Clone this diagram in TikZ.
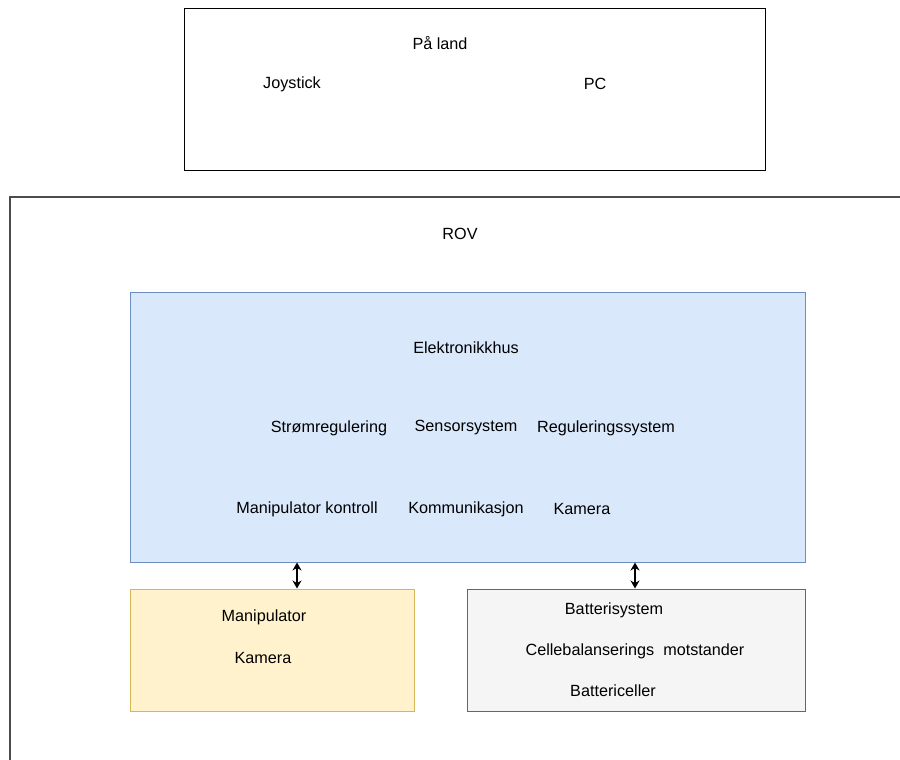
\documentclass[tikz,border=0pt]{standalone}
\usepackage{fontspec}
\setmainfont{Liberation Sans}
\usetikzlibrary{arrows.meta}
\begin{document}
\begin{tikzpicture}[x=1pt,y=-1pt,
  lbl/.style={inner sep=0pt,font=\fontsize{16.2}{19}\selectfont},
  box/.style={draw,line width=1pt,inner sep=0pt},
  darr/.style={{Stealth[length=8pt,width=9pt]}-{Stealth[length=8pt,width=9pt]},line width=1.6pt}]
\useasboundingbox (0,0) rectangle (900,760);
% Top box
\node[box,draw=black,minimum width=581pt,minimum height=161pt] (land) at (474.5,89.5) {};
\node[lbl] (paland) at (440,43) {På land};
\node[lbl] (joy) at (292,84) {Joystick};
\node[lbl] (pc) at (595,84) {PC};
% ROV frame (cropped)
\coordinate (rovbl) at (10,760);
\coordinate (rovtl) at (10,197);
\coordinate (rovtr) at (900,197);
\draw[line width=1.2pt,black!70] (rovbl) -- (rovtl) -- (rovtr);
\node[lbl] (rov) at (460,234) {ROV};
% Elektronikkhus
\node[box,fill={rgb,255:red,218;green,232;blue,252},draw={rgb,255:red,108;green,142;blue,191},minimum width=675pt,minimum height=270pt] (elek) at (467.5,427) {};
\node[lbl] (elekt) at (466,348) {Elektronikkhus};
\node[lbl] (strom) at (329,428) {Strømregulering};
\node[lbl] (sens) at (466,428) {Sensorsystem};
\node[lbl] (reg) at (606,428) {Reguleringssystem};
\node[lbl] (mank) at (307,509) {Manipulator kontroll};
\node[lbl] (komm) at (466,509) {Kommunikasjon};
\node[lbl] (kam1) at (582,509) {Kamera};
% Manipulator box
\node[box,fill={rgb,255:red,255;green,242;blue,204},draw={rgb,255:red,214;green,182;blue,86},minimum width=284pt,minimum height=122pt] (manip) at (272,650) {};
\node[lbl] (mant) at (264,617) {Manipulator};
\node[lbl] (kam2) at (263,658) {Kamera};
% Battery box
\node[box,fill={rgb,255:red,245;green,245;blue,245},draw={rgb,255:red,102;green,102;blue,102},minimum width=338pt,minimum height=122pt] (batt) at (636,650) {};
\node[lbl] (batts) at (614,610) {Batterisystem};
\node[lbl] (cell) at (635,651) {Cellebalanserings\ \ motstander};
\node[lbl] (batc) at (613,691) {Battericeller};
% Arrows
\coordinate (a1) at (297,0);
\coordinate (a2) at (635,0);
\draw[darr] (elek.south -| a1) -- (manip.north -| a1);
\draw[darr] (elek.south -| a2) -- (batt.north -| a2);
\end{tikzpicture}
\end{document}
